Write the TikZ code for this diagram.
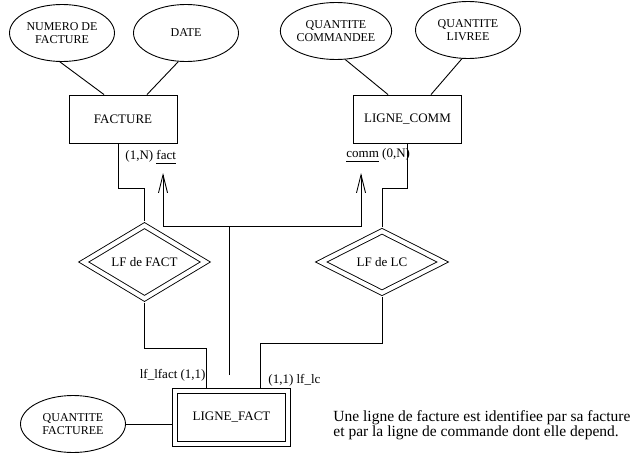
\documentclass[tikz,border=0pt]{standalone}
\usepackage{fontspec}
\setmainfont{Liberation Serif}
\usetikzlibrary{shapes.geometric,arrows.meta}

\newcommand\souligne[1]{\underline{#1\vphantom{g}}}

\tikzset{
    attrib/.style={draw, ellipse, inner sep=0pt, minimum width=105pt, minimum height=57pt,
        align=center, font=\fontsize{12}{13}\selectfont},
    entite/.style={draw, rectangle, minimum width=108pt, minimum height=48pt,
        font=\fontsize{13}{15}\selectfont},
    faible/.style={entite, double, double distance=4.2pt, minimum width=113.5pt,
        minimum height=53pt, outer sep=3pt},
    lien/.style={draw, diamond, double, double distance=4.2pt, inner sep=0pt,
        minimum width=124pt, minimum height=64pt, outer sep=3pt,
        font=\fontsize{13}{15}\selectfont},
    card/.style={inner sep=0pt, font=\fontsize{13}{15}\selectfont},
    fleche/.style={-{Straight Barb[length=18pt,width=9pt]}},
}

\begin{document}
\begin{tikzpicture}[x=1pt,y=-1pt,line width=0.9pt]
    \useasboundingbox (0,0) rectangle (635,455);

    % attributs
    \node[attrib] (numfact) at (62,33) {NUMERO DE\\FACTURE};
    \node[attrib] (date) at (186,33) {DATE};
    \node[attrib] (qcomm) at (336,31) {QUANTITE\\COMMANDEE};
    \node[attrib] (qliv) at (468,30) {QUANTITE\\LIVREE};
    \node[attrib] (qfact) at (73,424) {QUANTITE\\FACTUREE};

    % entites
    \node[entite] (fact) at (123,119) {FACTURE};
    \node[entite] (lcomm) at (407.5,119) {LIGNE\_COMM};
    \node[faible] (lfact) at (231.5,417.5) {LIGNE\_FACT};

    % associations
    \node[lien] (lffact) at (144.5,262) {LF de FACT};
    \node[lien] (lflc) at (382,262) {LF de LC};

    \foreach \a/\e/\s in {numfact.-94/fact/-19, date.-105/fact/24,
                          qcomm.-72/lcomm/-19.5, qliv.-102/lcomm/23.5}
    \draw (\a) -- ([xshift=\s pt]\e.north);
    \draw (qfact.east) -- (qfact.east -| lfact.west);

    \draw ([xshift=-5pt]fact.south) -- ++(0,45) -| (lffact.north);
    \draw (lffact.south) -- ++(0,46) -| ([xshift=-25.5pt]lfact.north);
    \draw (lcomm.south) -- ++(0,45) -| (lflc.north);
    \draw (lflc.south) -- ++(0,46) -| ([xshift=28.5pt]lfact.north);

    % cardinalites
    \node[card, anchor=west] (cfact) at (125,157) {(1,N) \souligne{fact}};
    \node[card, anchor=west] (ccomm) at (346,155) {\souligne{comm} (0,N)};
    \node[card, anchor=east] (clff) at (206,375) {lf\_lfact (1,1)};
    \node[card, anchor=west] (clfc) at (268,380) {(1,1) lf\_lc};

    % identifiant de LIGNE_FACT
    \coordinate (lfbase) at (229,375);
    \coordinate (fork) at (229,226);
    \coordinate (tipfact) at (163,173);
    \coordinate (tipcomm) at (361,173);
    \draw (lfbase) -- (fork);
    \draw[fleche] (fork) -| (tipfact);
    \draw[fleche] (fork) -| (tipcomm);

    \node[anchor=north west, align=left, inner sep=0pt,
        font=\fontsize{15.5}{15.5}\selectfont] (note) at (333,410)
        {Une ligne de facture est identifiee par sa facture\\
         et par la ligne de commande dont elle depend.};
\end{tikzpicture}
\end{document}
